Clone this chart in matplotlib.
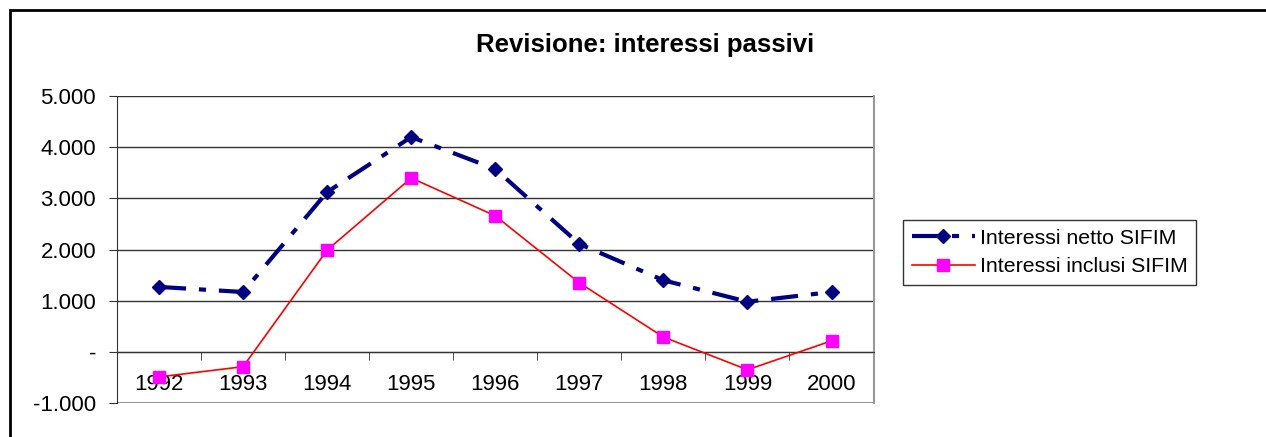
import matplotlib.pyplot as plt
import matplotlib.patches as mpatches
import numpy as np

# dati
anni = ['1992', '1993', '1994', '1995', '1996', '1997', '1998', '1999', '2000']
netto_sifim = [1270, 1170, 3125, 4200, 3575, 2110, 1400, 980, 1170]
inclusi_sifim = [-490, -290, 1990, 3400, 2660, 1350, 290, -350, 215]
y_ticks = [-1000, 0, 1000, 2000, 3000, 4000, 5000]
y_labels = ['-1.000', '-', '1.000', '2.000', '3.000', '4.000', '5.000']

plt.rcParams['font.family'] = ['Liberation Sans', 'DejaVu Sans']

fig = plt.figure(figsize=(12.66, 4.37), dpi=100)
ax = fig.add_axes([0.0924, 0.0778, 0.5976, 0.7022])

x = np.arange(len(anni))

# griglia orizzontale
for v in y_ticks[1:]:
    ax.axhline(v, color='#333333', lw=1.0, zorder=1)

ax.plot(x, netto_sifim, color='#000080', lw=3, dashes=(6.5, 3.1, 1.7, 3.1),
        dash_capstyle='butt', marker='D', markersize=7,
        label='Interessi netto SIFIM', zorder=3)
ax.plot(x, inclusi_sifim, color='#ff0000', lw=1.2,
        marker='s', markersize=8, markerfacecolor='#ff00ff', markeredgecolor='#ff00ff',
        label='Interessi inclusi SIFIM', zorder=3)

ax.set_xlim(-0.5, len(anni) - 0.5)
ax.set_ylim(-1000, 5000)

ax.spines['bottom'].set_position(('data', 0))
ax.spines['bottom'].set_color('#333333')
ax.spines['left'].set_color('#333333')
ax.spines['top'].set_visible(False)
ax.spines['right'].set_color('#999999')
ax.spines['right'].set_linewidth(1.5)
ax.axhline(-1000, color='#999999', lw=1.5, zorder=1)

ax.set_yticks(y_ticks)
ax.set_yticklabels(y_labels)
ax.set_xticks(x)
ax.set_xticklabels(anni)
ax.set_xticks(np.arange(0.5, len(anni) - 1, 1), minor=True)
ax.tick_params(axis='x', which='major', length=0, pad=16, labelsize=16)
ax.tick_params(axis='x', which='minor', length=6, direction='out', color='#333333')
ax.tick_params(axis='y', length=6, color='#333333', pad=9, labelsize=16)

fig.text(645 / 1266, 1 - 45 / 437, 'Revisione: interessi passivi', fontsize=18.5,
         fontweight='bold', ha='center', va='center')

leg = ax.legend(loc='center left', bbox_to_anchor=(1.025, 0.49), fontsize=15.3,
                frameon=True, fancybox=False, edgecolor='black',
                borderpad=0.4, handlelength=3.0, labelspacing=0.45, handletextpad=0.2)
leg.get_frame().set_linewidth(1.0)

# cornice esterna
fig.patches.append(mpatches.Rectangle((10 / 1266, -0.01), 1.0, 1 - 10 / 437 + 0.01,
                                      transform=fig.transFigure, fill=False,
                                      edgecolor='black', lw=2))

plt.savefig('out.png', dpi=100)
